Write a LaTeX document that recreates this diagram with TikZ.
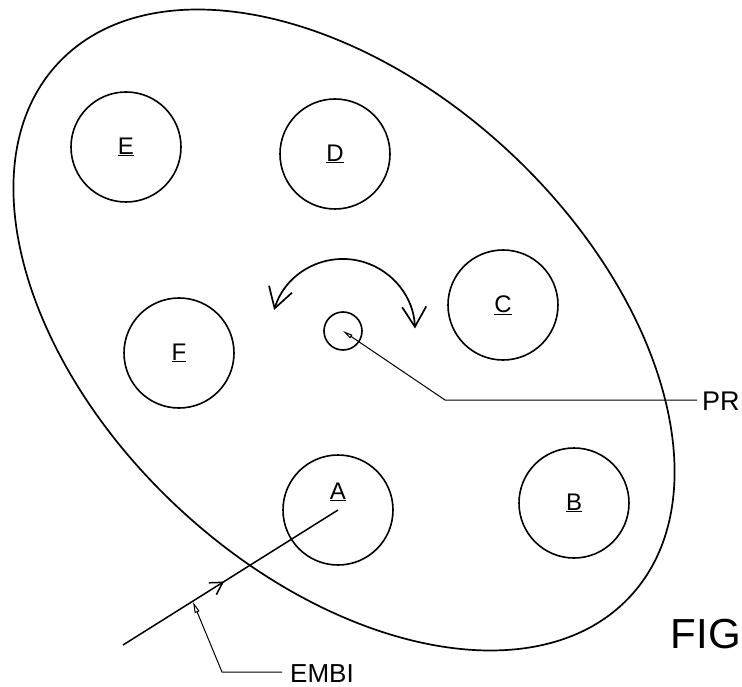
\documentclass[tikz,border=0pt]{standalone}
\usepackage{fontspec}
\setmainfont{Liberation Sans}
\usetikzlibrary{arrows.meta,decorations.markings}

\begin{document}
\begin{tikzpicture}[x=1pt,y=-1pt]
\useasboundingbox (0,0) rectangle (742,687);
\def \rwell {110pt}
   \tikzset{WellStyle/.style = {shape = circle,draw = black,line width = 1.6pt,minimum size = \rwell, inner sep = 0pt,font=\fontsize{24}{24}\selectfont}}
   \tikzset{TagStyle/.style = {inner sep = 0pt,font=\fontsize{27}{27}\selectfont}}
   \tikzset{LeadStyle/.style = {line width = 1pt}}

% plate
   \draw[line width = 1.7pt, rotate around = {-43:(344,330)}] (344,330) ellipse [x radius = 391pt, y radius = 243pt];

   \node[WellStyle] (E) at (126,147) {\underline{E}};
   \node[WellStyle] (D) at (335,154) {\underline{D}};
   \node[WellStyle] (C) at (503,305) {\underline{C}};
   \node[WellStyle] (F) at (179,353) {\underline{F}};
   \node[WellStyle, label = {[font=\fontsize{24}{24}\selectfont, yshift=18pt]center:\underline{A}}] (A) at (338,510) {};
   \node[WellStyle] (B) at (574,503) {\underline{B}};
   \node[WellStyle, minimum size = 38pt] (pivot) at (343,331) {};

%\draw[help lines] (0,0) grid[step=50] (742,687);
% rotation
   \draw[line width = 1.7pt, {Straight Barb[length=20pt,width=24pt]}-{Straight Barb[length=20pt,width=24pt]}]
      (pivot.center) ++(163:72pt) arc[start angle = 163, end angle = 2, radius = 72pt];

% PR
   \node[TagStyle, anchor = base west] (PR) at (702,410) {PR};
   \coordinate (PRbend) at (445,400);
   \draw[LeadStyle, -{Triangle[open,length=10pt,width=4pt]}] (PR.west |- PRbend) ++(-5,0) -- (PRbend) -- (pivot.center);

% EMBI
   \coordinate (beam) at (123,645);
   \coordinate (hit) at (193,602);
   \draw[line width = 1.5pt, postaction = {decorate},
      decoration = {markings, mark = at position 0.47 with {\arrow{Straight Barb[length=12pt,width=14pt]}}}]
      (beam) -- (A.center);
   \node[TagStyle, font=\fontsize{26}{26}\selectfont, anchor = base west] (EMBI) at (290,682) {EMBI};
   \coordinate (EMBIbend) at (222,672);
   \draw[LeadStyle, -{Triangle[open,length=11pt,width=5pt]}] (EMBI.west |- EMBIbend) ++(-8,0) -- (EMBIbend) -- (hit);

   \node[TagStyle, font=\fontsize{42}{42}\selectfont, anchor = base east] (FIG) at (741,648) {FIG};
\end{tikzpicture}
\end{document}
